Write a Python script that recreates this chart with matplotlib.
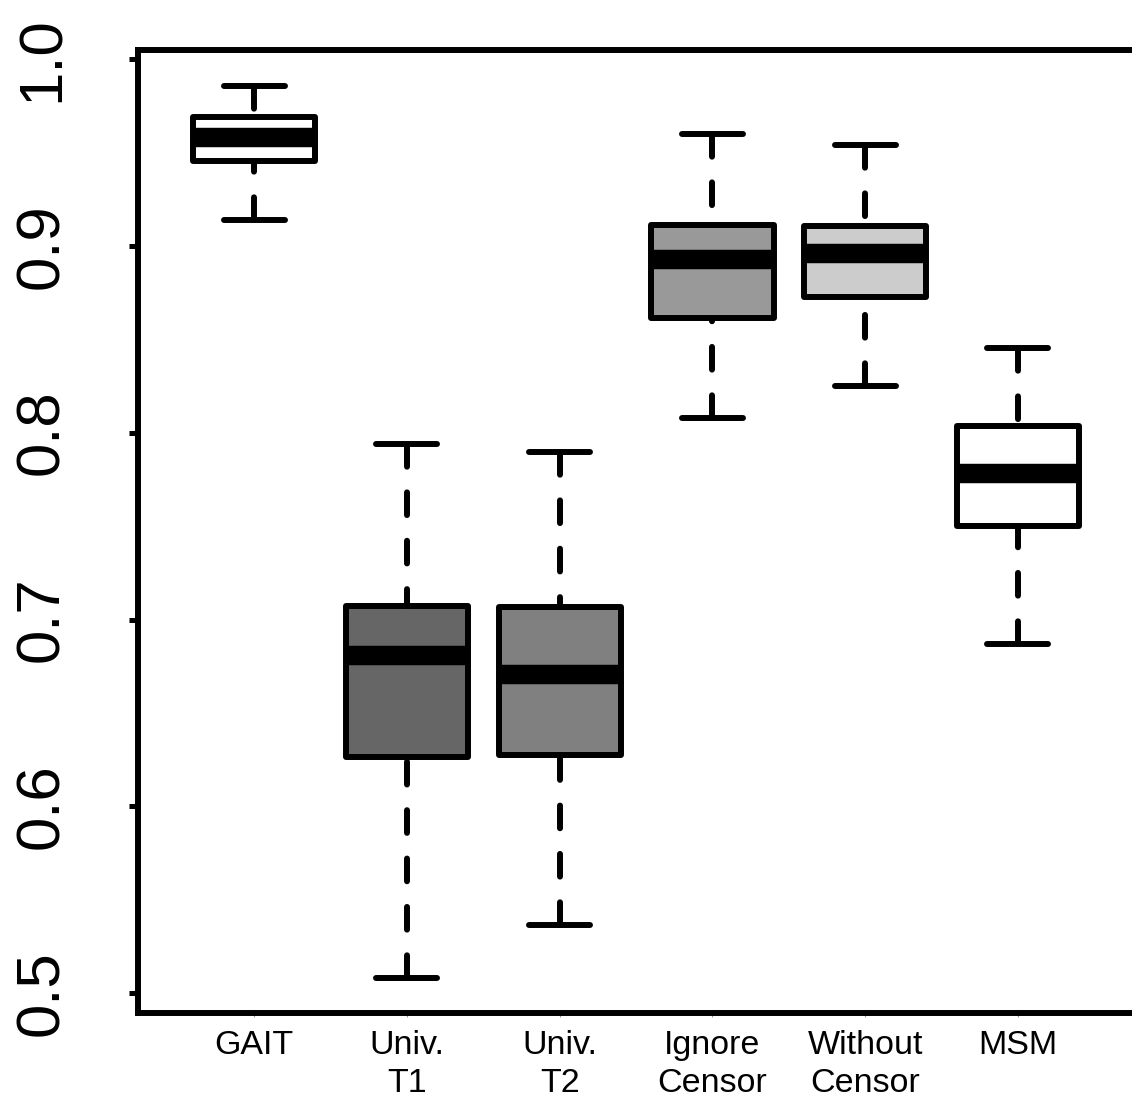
import matplotlib.pyplot as plt
plt.switch_backend('Agg')

plt.rcParams['font.family'] = ['Liberation Sans', 'DejaVu Sans']

# values
methods = ['GAIT', 'Univ.\nT1', 'Univ.\nT2', 'Ignore\nCensor', 'Without\nCensor', 'MSM']
whis_low = [0.9139, 0.5082, 0.5364, 0.8080, 0.8251, 0.6870]
q1 = [0.9451, 0.6264, 0.6273, 0.8613, 0.8724, 0.7503]
median = [0.9579, 0.6813, 0.6710, 0.8929, 0.8959, 0.7782]
q3 = [0.9686, 0.7070, 0.7066, 0.9112, 0.9107, 0.8037]
whis_high = [0.9856, 0.7941, 0.7898, 0.9597, 0.9540, 0.8453]
fills = ['#ffffff', '#666666', '#808080', '#999999', '#cccccc', '#ffffff']
y_ticks = [0.5, 0.6, 0.7, 0.8, 0.9, 1.0]

stats = []
for i in range(len(methods)):
    stats.append({'whislo': whis_low[i], 'q1': q1[i], 'med': median[i],
                  'q3': q3[i], 'whishi': whis_high[i], 'fliers': []})

fig = plt.figure(figsize=(11.32, 11.04), dpi=100)
ax = fig.add_axes([0.1219, 0.0824, 0.8799, 0.8723])

lw = 4.3
parts = ax.bxp(stats, positions=range(1, len(methods) + 1), widths=0.8,
               patch_artist=True, showfliers=False,
               boxprops=dict(linewidth=lw, edgecolor='black', joinstyle='round'),
               medianprops=dict(linewidth=14, color='black', solid_capstyle='butt'),
               whiskerprops=dict(linewidth=lw, color='black',
                                 linestyle=(0, (3.8, 4.3)), dash_capstyle='round'),
               capprops=dict(linewidth=lw, color='black', solid_capstyle='round'),
               capwidths=0.4)
for box, c in zip(parts['boxes'], fills):
    box.set_facecolor(c)
# dashes start at the cap end, like R does
for w in parts['whiskers']:
    xd, yd = w.get_data()
    w.set_data(xd[::-1], yd[::-1])

ax.set_xlim(0.24, 6.76)
ax.set_ylim(0.4895, 1.0047)

ax.set_xticks(range(1, len(methods) + 1))
ax.set_xticklabels(methods, fontsize=24.5, linespacing=1.27)
ax.tick_params(axis='x', length=3, width=0.8, color='#999999', pad=9.5)

ax.set_yticks(y_ticks)
ax.set_yticklabels(['%.1f' % v for v in y_ticks], fontsize=44.5, rotation=90)
for lab in ax.get_yticklabels():
    lab.set_va('center')
    lab.set_ha('right')
ax.tick_params(axis='y', length=6.5, width=3.6, pad=41.5)

for s in ax.spines.values():
    s.set_linewidth(lw)

plt.savefig('out.png')
